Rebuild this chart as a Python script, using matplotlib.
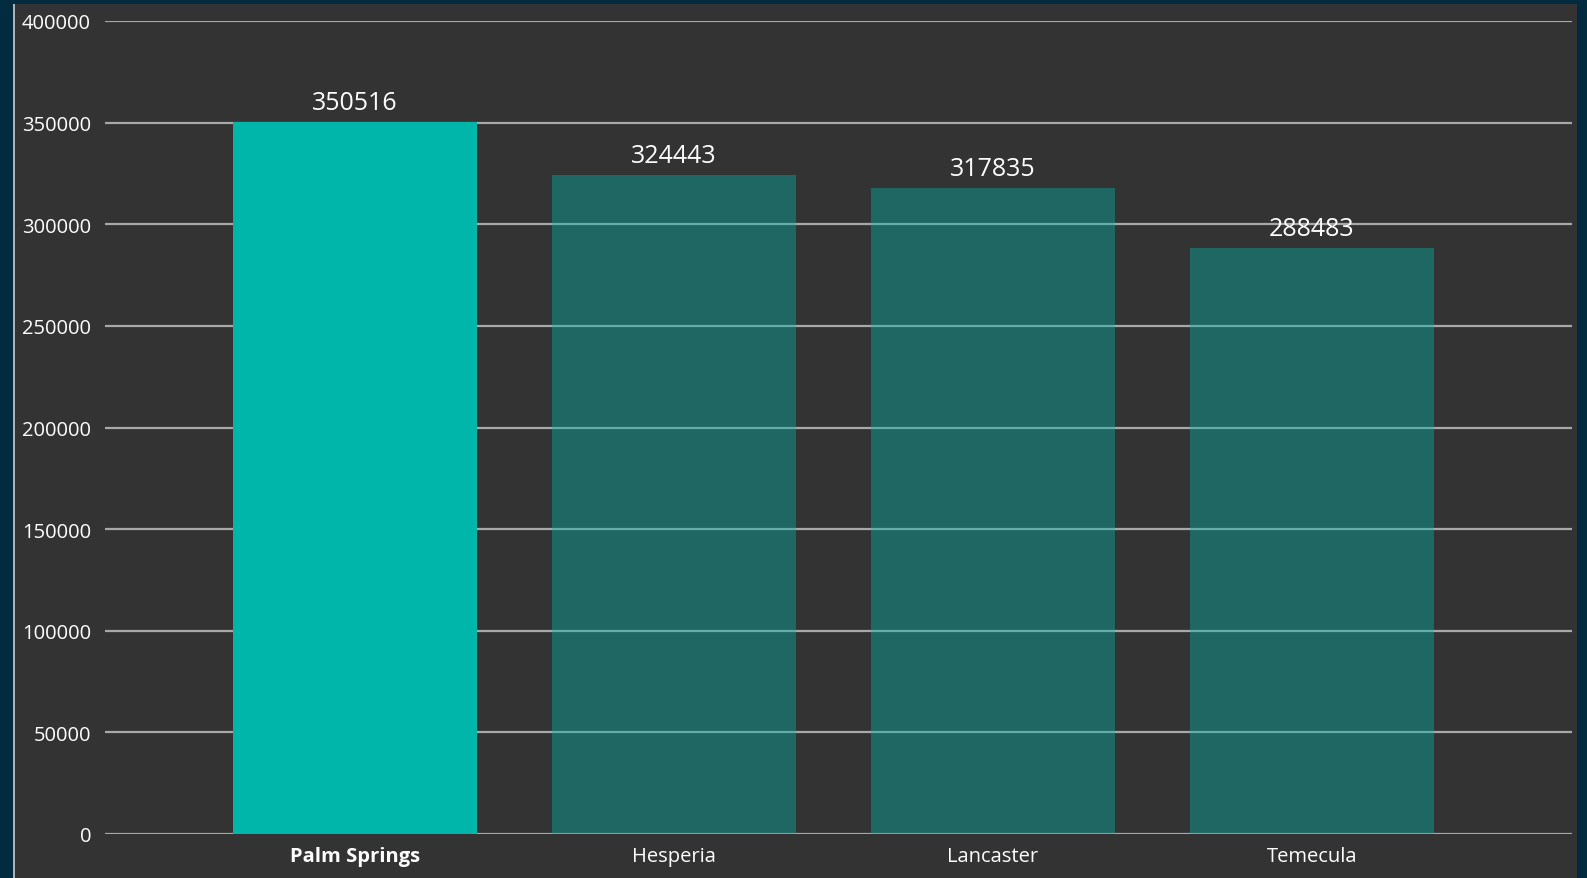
import matplotlib
matplotlib.use("Agg")
import matplotlib.pyplot as plt
from matplotlib.colors import to_rgba
from matplotlib.patches import Rectangle

cities = ["Palm Springs", "Hesperia", "Lancaster", "Temecula"]
values = [350516, 324443, 317835, 288483]
yticks = [0, 50000, 100000, 150000, 200000, 250000, 300000, 350000, 400000]

W, H = 1587, 879
fig = plt.figure(figsize=(W / 100, H / 100), dpi=100, facecolor="#022b40")
plt.rcParams["font.family"] = ["Open Sans", "DejaVu Sans"]

# dark panel behind the chart
fig.patches.append(Rectangle((13 / W, 0), (1577 - 13) / W, (H - 5) / H,
                             transform=fig.transFigure, facecolor="#333333",
                             edgecolor="none", zorder=-2))
fig.patches.append(Rectangle((13 / W, 0), 1.5 / W, (H - 5) / H,
                             transform=fig.transFigure, facecolor="#b0b0b0",
                             edgecolor="none", zorder=-1))

ax = fig.add_axes([105 / W, (H - 835) / H, (1572 - 105) / W, (835 - 22) / H])
ax.set_facecolor("none")
ax.set_zorder(1)

# first bar highlighted, others same teal but faded
colors = [to_rgba("#00b6aa", 1.0)] + [to_rgba("#00b6aa", 0.4)] * (len(cities) - 1)
x = list(range(len(cities)))
bars = ax.bar(x, values, width=0.765, color=colors, zorder=2)
for b, v in zip(bars, values):
    ax.annotate(str(v), (b.get_x() + b.get_width() / 2, v), xytext=(0, 5),
                textcoords="offset points", ha="center", va="bottom",
                color="white", fontsize=18)

ax.set_xlim(-0.784, 3.815)
ax.set_ylim(0, 400000)
ax.set_yticks(yticks)
ax.set_yticklabels([str(t) for t in yticks], color="white", fontsize=14.5)
ax.set_xticks(x)
ax.set_xticklabels(cities, color="white", fontsize=14.5)
ax.get_xticklabels()[0].set_fontweight("bold")
ax.tick_params(axis="y", length=0, pad=10)
ax.tick_params(axis="x", length=0, pad=9)
ax.grid(axis="y", color="#a8a8a8", linewidth=1.6, zorder=1)
ax.set_axisbelow(True)
for s in ax.spines.values():
    s.set_visible(False)

fig.savefig("out.png", dpi=100, facecolor=fig.get_facecolor())
